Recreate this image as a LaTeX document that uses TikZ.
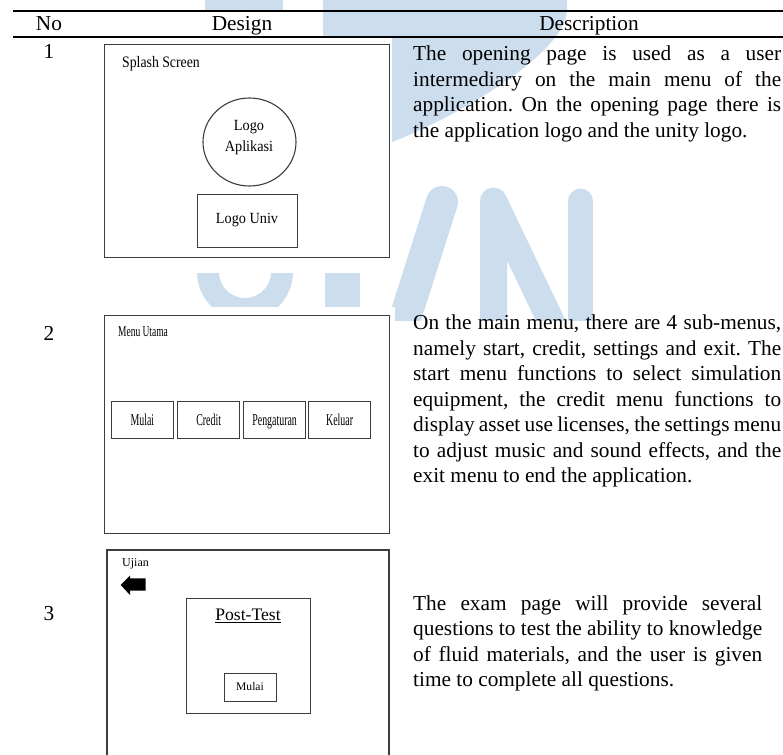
\documentclass[tikz,border=0pt]{standalone}
\usepackage{fontspec}
\setmainfont{Liberation Serif}
\usetikzlibrary{shapes.geometric}
\definecolor{wmblue}{RGB}{204,222,238}
\definecolor{boxline}{RGB}{60,60,60}
\newcommand\jline[2]{\makebox[#1][s]{#2}}
\newcommand\narrow[2]{\scalebox{#1}[1]{#2}}
\frenchspacing
\begin{document}
\begin{tikzpicture}[x=1pt,y=-1pt,
  frame/.style={draw=boxline, line width=1.3pt, inner sep=0pt, anchor=north west},
  desc/.style={anchor=base west, inner sep=0pt, font=\fontsize{21.3}{25.5}\selectfont},
  head/.style={anchor=base, inner sep=0pt, font=\fontsize{21.3}{25.5}\selectfont},
  small/.style={inner sep=0pt},
  wmstroke/.style={draw=wmblue, line cap=round}]
\useasboundingbox (0,0) rectangle (783,754);

% background watermark
\begin{scope}
  \clip (0,0) rectangle (783,320);
  \fill[wmblue] (205,0) rectangle (283,11);
  \fill[wmblue] (323,0) -- (567,0) -- (567,10) .. controls (566,55) and (450,120) .. (392,142) -- (323,142) -- cycle;
  % U
  \draw[wmstroke, line width=22pt] (208,200) -- (208,272) arc[start angle=180, end angle=0, radius=37] -- (282,200);
  \draw[wmstroke, line width=35pt] (342,250) -- (342,340);
  % M
  \draw[wmstroke, line width=32pt] (442,202) -- (398,340);
  % N
  \draw[wmstroke, line width=27pt, line join=round] (493.5,340) -- (493.5,201) -- (560,340);
  \draw[wmstroke, line width=25pt] (580.5,201) -- (580.5,340);
\end{scope}

% white backgrounds of the three screen designs
\fill[white] (100,38) rectangle (392,273);
\fill[white] (100,307) rectangle (395,540);
\fill[white] (100,545) rectangle (395,754);

% table rules and header
\draw[line width=1.6pt] (13,11) -- (783,11);
\draw[line width=1.6pt] (13,37) -- (783,37);
\node[head] (hno) at (49,31) {No};
\node[head] (hdesign) at (242,31) {Design};
\node[head] (hdescr) at (589,31) {Description};

% row numbers
\node[head] (n1) at (49,59) {1};
\node[head] (n2) at (49,340) {2};
\node[head] (n3) at (49,620) {3};

% design 1: splash screen
\node[frame, minimum width=285pt, minimum height=213pt] (scr1) at (104,44) {};
\node[small, anchor=base west, font=\fontsize{16}{18}\selectfont] (t1) at (122,68) {\narrow{0.86}{Splash Screen}};
\node[draw=boxline, line width=1.1pt, ellipse, minimum width=93pt, minimum height=88pt, inner sep=0pt] (logoapp) at (249.5,142) {};
\node[small, anchor=base, font=\fontsize{15.5}{18}\selectfont] (logo1) at (249,130.7) {\narrow{0.92}{Logo}};
\node[small, anchor=base, font=\fontsize{15.5}{18}\selectfont] (logo2) at (249,151.7) {\narrow{0.92}{Aplikasi}};
\node[frame, minimum width=100pt, minimum height=53pt] (univ) at (197,194) {};
\node[small, anchor=base, font=\fontsize{15.5}{18}\selectfont] (univt) at (247,223) {\narrow{0.92}{Logo Univ}};

% design 2: main menu
\node[frame, minimum width=285pt, minimum height=218pt] (scr2) at (104,315) {};
\node[small, anchor=base west, font=\fontsize{15}{18}\selectfont] (t2) at (118,336.5) {\narrow{0.63}{Menu Utama}};
\foreach \bx/\lbl/\nm in {110.7/Mulai/bmulai, 177/Credit/bcredit, 243/Pengaturan/bset, 308/Keluar/bexit}{
  \node[frame, minimum width=62pt, minimum height=37pt] (\nm) at (\bx,401) {};
  \node[small, anchor=base, font=\fontsize{16.5}{18}\selectfont] (\nm-t) at ([yshift=-5pt]\nm.center) {\narrow{0.6}{\lbl}};
}

% design 3: exam page
\draw[draw=boxline, line width=1.3pt] (107,760) -- (107,550) -- (389,550) -- (389,760);
\node[small, anchor=base west, font=\fontsize{12}{14}\selectfont] (t3) at (122,566.5) {Ujian};
\fill[black] (120.7,585) -- (130,575.7) -- (130,578.3) -- (145.7,578.3) -- (145.7,590.5) -- (130,590.5) -- (130,595) -- cycle;
\node[frame, minimum width=124pt, minimum height=115pt] (post) at (186,598) {};
\node[small, anchor=base, font=\fontsize{17.6}{20}\selectfont] (postt) at (248,620) {Post-Test};
\draw[line width=0.9pt] ([yshift=-2pt]postt.south west) -- ([yshift=-2pt]postt.south east);
\node[frame, minimum width=52pt, minimum height=28pt] (pmulai) at (224,673) {};
\node[small, anchor=base, font=\fontsize{11.6}{14}\selectfont] (pmulait) at (250,690) {Mulai};

% descriptions
\node[desc] (d1a) at (413,61) {\jline{368pt}{The opening page is used as a user}};
\node[desc] (d1b) at (413,86.5) {\jline{368pt}{intermediary on the main menu of the}};
\node[desc] (d1c) at (413,112) {\jline{368pt}{application. On the opening page there is}};
\node[desc] (d1d) at (413,137.5) {the application logo and the unity logo.};

\node[desc] (d2a) at (413,329.5) {\jline{368pt}{On the main menu, there are 4 sub-menus,}};
\node[desc] (d2b) at (413,355) {\jline{368pt}{namely start, credit, settings and exit. The}};
\node[desc] (d2c) at (413,380.5) {\jline{368pt}{start menu functions to select simulation}};
\node[desc] (d2d) at (413,406) {\jline{368pt}{equipment, the credit menu functions to}};
\node[desc] (d2e) at (413,431.5) {\jline{368pt}{display asset use licenses, the settings menu}};
\node[desc] (d2f) at (413,457) {\jline{368pt}{to adjust music and sound effects, and the}};
\node[desc] (d2g) at (413,482.5) {exit menu to end the application.};

\node[desc] (d3a) at (413,610) {\jline{349pt}{The exam page will provide several}};
\node[desc] (d3b) at (413,635.5) {\jline{349pt}{questions to test the ability to knowledge}};
\node[desc] (d3c) at (413,661) {\jline{349pt}{of fluid materials, and the user is given}};
\node[desc] (d3d) at (413,686.5) {time to complete all questions.};
\end{tikzpicture}
\end{document}
